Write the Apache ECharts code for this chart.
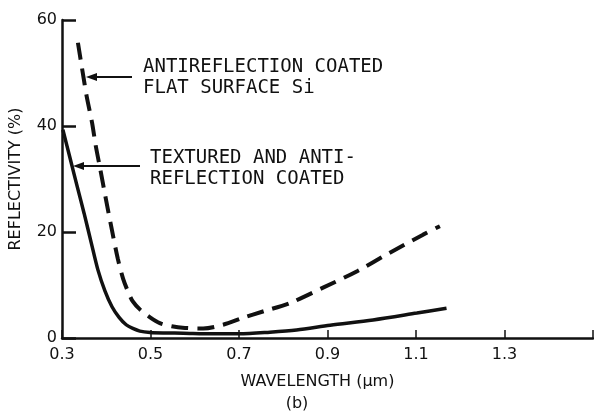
<!DOCTYPE html>
<html>
<head>
<meta charset="utf-8">
<script src="https://cdn.jsdelivr.net/npm/echarts@6/dist/echarts.min.js"></script>
<style>html,body{margin:0;padding:0;background:#fff}#c{width:594px;height:416px}</style>
</head>
<body>
<div id="c"></div>
<script>
// Data
const wavelengthTextured = [0.302,0.318,0.334,0.350,0.366,0.381,0.397,0.413,0.429,0.445,0.460,0.476,0.499,0.535,0.574,0.64,0.70,0.77,0.83,0.906,1.003,1.102,1.169];
const reflTextured = [39.3,34.0,28.7,23.5,18.0,12.9,8.9,5.9,3.9,2.5,1.8,1.3,1.05,0.95,0.9,0.8,0.8,1.1,1.5,2.4,3.4,4.7,5.6];
const wavelengthFlat = [0.336,0.347,0.356,0.368,0.376,0.385,0.399,0.413,0.426,0.438,0.449,0.460,0.476,0.499,0.521,0.548,0.578,0.619,0.664,0.709,0.754,0.815,0.890,0.967,1.041,1.116,1.154];
const reflFlat = [55.7,50.0,45.5,40.6,36.4,32.5,26.3,20.3,15.0,11.2,8.8,6.9,5.4,3.9,2.8,2.2,1.9,1.8,2.5,3.8,5.0,6.6,9.5,12.6,16.1,19.5,21.1];
const xTicks = [0.3,0.5,0.7,0.9,1.1,1.3,1.5];
const xTickLabels = [0.3,0.5,0.7,0.9,1.1,1.3];
const yTicks = [0,20,40,60];
const labelFlat = ['ANTIREFLECTION COATED','FLAT SURFACE Si'];
const labelTextured = ['TEXTURED AND ANTI-','REFLECTION COATED'];

const ink = '#111';
const chart = echarts.init(document.getElementById('c'), null, {renderer:'canvas'});
const pair = (xs, ys) => xs.map((x,i)=>[x, ys[i]]);
const annFont = 'DejaVu Sans Mono';
chart.setOption({
  backgroundColor:'#fff',
  animation:false,
  grid:{left:62,right:1,top:20,bottom:78},
  xAxis:{
    type:'value', min:0.3, max:1.5,
    axisLine:{lineStyle:{color:ink,width:2.5}},
    axisTick:{inside:true,length:8,customValues:xTicks,lineStyle:{color:ink,width:1.5}},
    axisLabel:{customValues:xTickLabels,color:ink,fontSize:16,fontFamily:'DejaVu Sans',margin:9,
      formatter:v=>v.toFixed(1)},
    splitLine:{show:false},
    name:'WAVELENGTH (\u03bcm)', nameLocation:'middle', nameGap:36,
    nameTextStyle:{color:ink,fontSize:16,fontFamily:'DejaVu Sans',padding:[0,20,0,0]}
  },
  yAxis:{
    type:'value', min:0, max:60,
    axisLine:{show:true,lineStyle:{color:ink,width:2.5}},
    axisTick:{show:true,inside:true,length:14,customValues:yTicks,lineStyle:{color:ink,width:2.5}},
    axisLabel:{customValues:yTicks,color:ink,fontSize:16,fontFamily:'DejaVu Sans',margin:5},
    splitLine:{show:false},
    name:'REFLECTIVITY (%)', nameLocation:'middle', nameGap:38, nameRotate:90,
    nameTextStyle:{color:ink,fontSize:16,fontFamily:'DejaVu Sans'}
  },
  series:[
    {type:'line',data:pair(wavelengthTextured,reflTextured),smooth:0.3,symbol:'none',
     lineStyle:{color:ink,width:3.5}},
    {type:'line',data:pair(wavelengthFlat,reflFlat),smooth:0.3,symbol:'none',
     lineStyle:{color:ink,width:4,type:[17,9]}}
  ],
  graphic:[
    {type:'text',left:143,top:57,style:{text:labelFlat.join('\n'),font:'19px "'+annFont+'"',fill:ink,lineHeight:21}},
    {type:'text',left:150,top:148,style:{text:labelTextured.join('\n'),font:'19px "'+annFont+'"',fill:ink,lineHeight:21}},
    {type:'line',shape:{x1:132,y1:77,x2:94,y2:77},style:{stroke:ink,lineWidth:2}},
    {type:'polygon',shape:{points:[[86,77],[97,73],[97,81]]},style:{fill:ink}},
    {type:'line',shape:{x1:140,y1:166,x2:81,y2:166},style:{stroke:ink,lineWidth:2}},
    {type:'polygon',shape:{points:[[73,166],[84,162],[84,170]]},style:{fill:ink}},
    {type:'text',left:'center',top:396,style:{text:'(b)',font:'16px "DejaVu Sans"',fill:ink},x:-5}
  ]
});
</script>
</body>
</html>
